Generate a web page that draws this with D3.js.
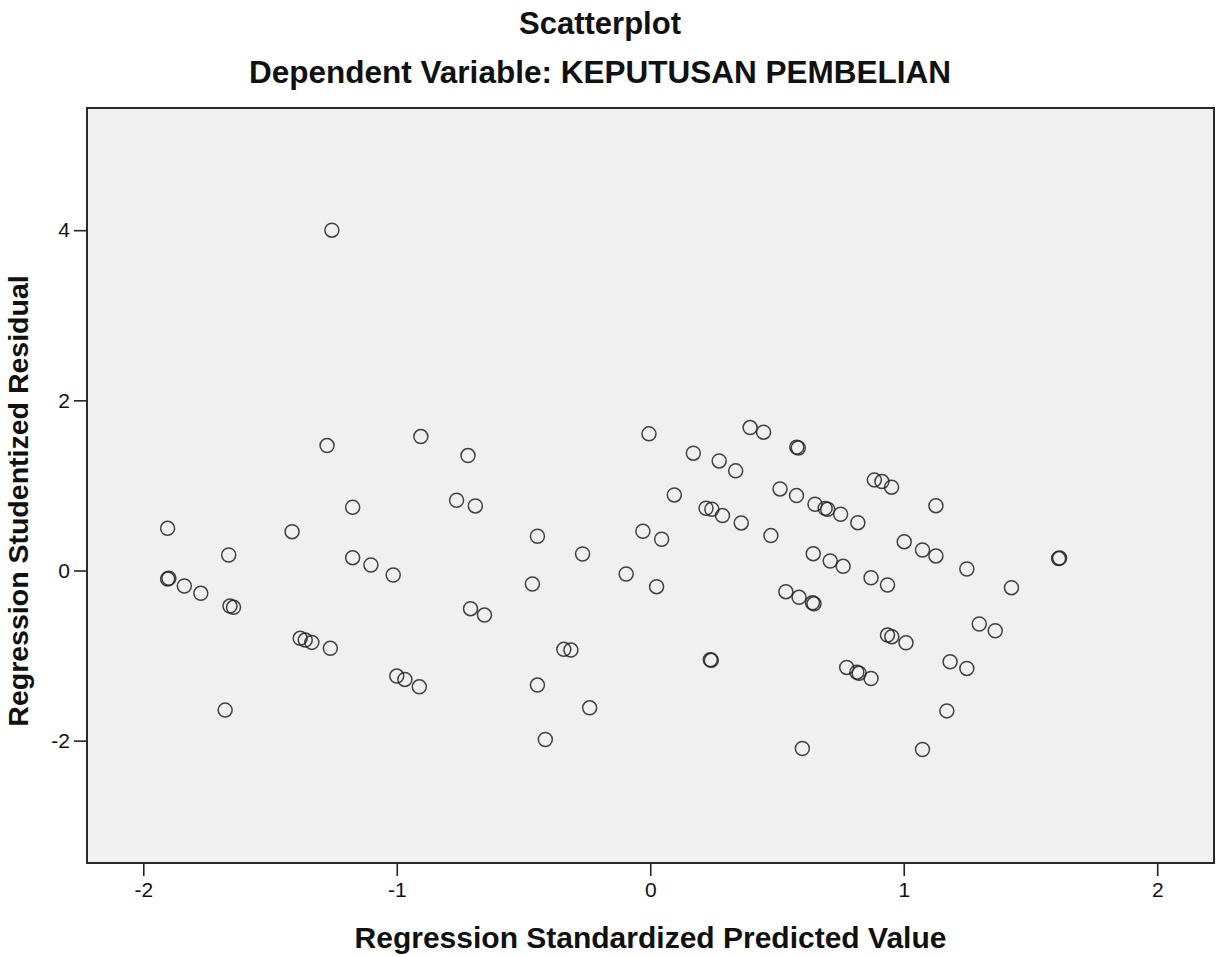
<!DOCTYPE html>
<html>
<head>
<meta charset="utf-8">
<script src="https://cdn.jsdelivr.net/npm/d3@7"></script>
<style>
  body { margin: 0; background: #fff; }
  text { font-family: "Liberation Sans", Arial, sans-serif; fill: #111; }
</style>
</head>
<body>
<div id="chart"></div>
<script>
// regression standardized predicted value (x)
var predicted = [-1.256, -1.275, -1.174, -1.904, -1.413, -1.663, -1.174, -1.102, -1.904, -1.899,
  -1.838, -1.773, -1.658, -1.644, -1.381, -1.361, -1.335, -1.262, -1.677, -0.905,
  -0.719, -0.005, -0.764, -0.690, -0.445, -0.267, -0.029, 0.045, -1.014, -0.465,
  -0.095, 0.025, -0.709, -0.654, -0.341, -0.313, -1.000, -0.968, -0.911, -0.445,
  -0.239, -0.414, 0.394, 0.447, 0.578, 0.584, 0.170, 0.272, 0.337, 0.884,
  0.914, 0.952, 0.095, 1.127, 0.512, 0.577, 0.650, 0.690, 0.700, 0.751,
  0.819, 0.220, 0.243, 0.285, 0.359, 0.476, 0.643, 0.710, 0.761, 0.871,
  0.936, 0.535, 0.587, 0.640, 0.646, 0.936, 0.953, 1.009, 0.237, 0.241,
  0.775, 0.815, 0.824, 0.871, 0.600, 1.074, 1.002, 1.074, 1.127, 1.249,
  1.611, 1.615, 1.425, 1.298, 1.361, 1.183, 1.249, 1.170];

// regression studentized residual (y)
var residual = [4.000, 1.468, 0.743, 0.496, 0.456, 0.182, 0.151, 0.065, -0.100, -0.092,
  -0.182, -0.268, -0.418, -0.433, -0.797, -0.818, -0.845, -0.915, -1.641, 1.574,
  1.351, 1.606, 0.826, 0.759, 0.402, 0.194, 0.461, 0.367, -0.053, -0.159,
  -0.041, -0.190, -0.449, -0.524, -0.927, -0.935, -1.241, -1.280, -1.367, -1.347,
  -1.614, -1.986, 1.680, 1.626, 1.450, 1.440, 1.379, 1.288, 1.171, 1.065,
  1.045, 0.979, 0.888, 0.762, 0.959, 0.880, 0.779, 0.730, 0.720, 0.661,
  0.562, 0.732, 0.720, 0.645, 0.559, 0.410, 0.198, 0.112, 0.049, -0.085,
  -0.171, -0.249, -0.315, -0.380, -0.392, -0.759, -0.778, -0.849, -1.050, -1.056,
  -1.139, -1.195, -1.208, -1.269, -2.092, -2.104, 0.339, 0.241, 0.171, 0.018,
  0.140, 0.146, -0.202, -0.629, -0.708, -1.073, -1.151, -1.650];

var xTicks = [-2, -1, 0, 1, 2];
var yTicks = [-2, 0, 2, 4];

var title = "Scatterplot";
var subtitle = "Dependent Variable: KEPUTUSAN PEMBELIAN";
var xTitle = "Regression Standardized Predicted Value";
var yTitle = "Regression Studentized Residual";

var width = 1225, height = 957;
var box = {left: 87, right: 1214, top: 108, bottom: 863};

var svg = d3.select("#chart")
    .append("svg")
    .attr("width", width)
    .attr("height", height);

// scales
var x = d3.scaleLinear()
    .domain([-2.222, 2.224])
    .range([box.left, box.right]);

var y = d3.scaleLinear()
    .domain([-3.438, 5.436])
    .range([box.bottom, box.top]);

// plain hyphen labels like spss
var fmt = function(d) { return String(d); };

// plot background
svg.append("rect")
    .attr("x", box.left)
    .attr("y", box.top)
    .attr("width", box.right - box.left)
    .attr("height", box.bottom - box.top)
    .attr("fill", "#f0f0f0");

// axes
var gx = svg.append("g")
    .attr("transform", "translate(0," + box.bottom + ")")
    .call(d3.axisBottom(x).tickValues(xTicks).tickFormat(fmt)
      .tickSize(13).tickSizeOuter(0).tickPadding(6));

var gy = svg.append("g")
    .attr("transform", "translate(" + box.left + ",0)")
    .call(d3.axisLeft(y).tickValues(yTicks).tickFormat(fmt)
      .tickSize(13).tickSizeOuter(0).tickPadding(4));

[gx, gy].forEach(function(g) {
  g.select(".domain").remove();
  g.selectAll(".tick line").attr("stroke", "#222").attr("stroke-width", 1.6);
  g.selectAll(".tick text")
    .style("font-family", "'Liberation Sans', Arial, sans-serif")
    .style("font-size", "21px")
    .attr("fill", "#222");
});

// frame
svg.append("rect")
    .attr("x", box.left)
    .attr("y", box.top)
    .attr("width", box.right - box.left)
    .attr("height", box.bottom - box.top)
    .attr("fill", "none")
    .attr("stroke", "#2a2a2a")
    .attr("stroke-width", 2);

// points
var points = predicted.map(function(d, i) {
  return {x: d, y: residual[i]};
});

svg.append("g")
    .selectAll("circle")
    .data(points)
    .enter().append("circle")
      .attr("cx", function(d) { return x(d.x); })
      .attr("cy", function(d) { return y(d.y); })
      .attr("r", 7)
      .attr("fill", "none")
      .attr("stroke", "#222")
      .attr("stroke-opacity", 0.85)
      .attr("stroke-width", 1.5);

// titles
svg.append("text")
    .attr("x", 600)
    .attr("y", 34)
    .attr("text-anchor", "middle")
    .style("font-size", "31px")
    .style("font-weight", "bold")
    .text(title);

svg.append("text")
    .attr("x", 600)
    .attr("y", 83)
    .attr("text-anchor", "middle")
    .style("font-size", "31.5px")
    .style("font-weight", "bold")
    .text(subtitle);

svg.append("text")
    .attr("x", (box.left + box.right) / 2)
    .attr("y", 948)
    .attr("text-anchor", "middle")
    .style("font-size", "30px")
    .style("font-weight", "bold")
    .text(xTitle);

svg.append("text")
    .attr("transform", "translate(28," + 501 + ") rotate(-90)")
    .attr("text-anchor", "middle")
    .style("font-size", "28.5px")
    .style("font-weight", "bold")
    .text(yTitle);
</script>
</body>
</html>
